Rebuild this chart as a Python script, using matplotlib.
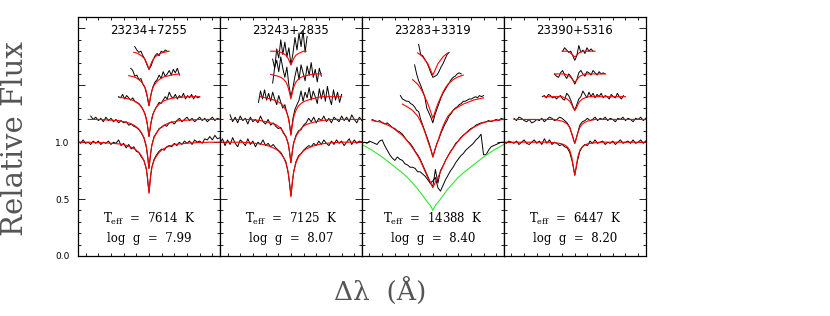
import numpy as np
import matplotlib.pyplot as plt
from matplotlib.ticker import MultipleLocator

# offsets from line centre (Angstrom) at which the half model profiles are given
model_dlam = [0, 6, 12, 20, 30, 40, 50, 60, 80, 100, 120, 160, 200, 240, 280]

star_names = ["23234+7255", "23243+2835", "23283+3319", "23390+5316"]
teff = [7614, 7125, 14388, 6447]
logg = ["7.99", "8.07", "8.40", "8.20"]
line_offsets = [0.0, 0.2, 0.4, 0.6, 0.8]   # H-beta (bottom) ... H8 (top)

# ---------------- 23234+7255 ----------------
p1_start = [-280, -230, -120, -72, -56]
p1_step = [10, 10, 8, 8, 8]
p1_obs1 = [1.01, 0.99, 1.02, 0.99, 1.00, 0.98, 1.01, 0.99, 1.01, 0.98,
           1.00, 0.99, 1.01, 0.98, 1.00, 0.99, 1.02, 0.97, 0.99, 0.95,
           0.98, 0.94, 0.96, 0.92, 0.91, 0.87, 0.84, 0.76, 0.56, 0.77,
           0.85, 0.89, 0.92, 0.94, 0.93, 0.96, 0.97, 0.96, 0.99, 0.97,
           1.00, 0.98, 1.01, 0.99, 1.01, 0.98, 1.02, 1.00, 1.01, 0.99,
           1.03, 1.02, 1.05, 1.02, 1.06, 1.03, 1.04]
p1_obs2 = [1.03, 1.00, 1.02, 0.99, 1.01, 0.98, 1.02, 0.99, 1.01, 0.98,
           1.00, 0.97, 0.99, 0.97, 0.98, 0.95, 0.96, 0.94, 0.93, 0.91,
           0.88, 0.84, 0.75, 0.57, 0.76, 0.85, 0.88, 0.92, 0.93, 0.95,
           0.94, 0.97, 0.98, 0.96, 0.99, 1.01, 0.98, 1.00, 1.02, 0.99,
           1.01, 0.98, 1.00, 1.02, 0.99, 1.01, 0.98, 1.00, 1.02, 0.99,
           1.01, 1.00]
p1_obs3 = [1.00, 0.99, 1.02, 0.98, 1.01, 0.99, 0.97, 0.99, 0.96, 0.95,
           0.94, 0.92, 0.89, 0.85, 0.78, 0.65, 0.77, 0.85, 0.89, 0.92,
           0.95, 0.94, 0.97, 1.00, 0.98, 1.04, 1.00, 0.99, 1.02, 0.98,
           1.01, 0.99, 1.03, 0.98, 1.01, 0.99, 1.02, 0.98, 1.01, 0.99,
           1.00]
p1_obs4 = [1.05, 1.03, 0.98, 0.99, 0.95, 0.96, 0.91, 0.88, 0.81, 0.72,
           0.82, 0.89, 0.93, 0.95, 0.99, 0.96, 1.02, 0.98, 1.00, 1.03,
           0.99, 1.04, 1.01, 1.05, 0.99]
p1_obs5 = [1.04, 1.01, 0.99, 1.00, 0.96, 0.93, 0.88, 0.84, 0.87, 0.92,
           0.96, 0.98, 0.96, 1.00, 0.99, 1.01, 1.00]
p1_mod1 = [0.55, 0.70, 0.78, 0.84, 0.88, 0.91, 0.93, 0.945, 0.965, 0.98, 0.985, 0.993, 0.997, 1.0, 1.0]
p1_mod2 = [0.57, 0.70, 0.78, 0.84, 0.885, 0.915, 0.935, 0.95, 0.97, 0.98, 0.99, 0.995, 1.0, 1.0, 1.0]
p1_mod3 = [0.65, 0.75, 0.82, 0.87, 0.91, 0.935, 0.95, 0.965, 0.98, 0.99, 0.995, 1.0, 1.0, 1.0, 1.0]
p1_mod4 = [0.72, 0.80, 0.86, 0.90, 0.93, 0.95, 0.965, 0.975, 0.985, 0.995, 1.0, 1.0, 1.0, 1.0, 1.0]
p1_mod5 = [0.84, 0.88, 0.91, 0.94, 0.96, 0.975, 0.985, 0.99, 1.0, 1.0, 1.0, 1.0, 1.0, 1.0, 1.0]

# ---------------- 23243+2835 ----------------
p2_start = [-280, -240, -128, -72, -72]
p2_step = [10, 10, 8, 8, 8]
p2_obs1 = [0.99, 1.03, 0.97, 1.02, 0.98, 1.04, 0.99, 0.96, 1.02, 1.00,
           0.97, 1.03, 0.98, 1.01, 0.96, 1.00, 0.98, 1.02, 0.97, 0.99,
           0.96, 0.98, 0.95, 0.93, 0.91, 0.87, 0.83, 0.72, 0.53, 0.73,
           0.83, 0.88, 0.90, 0.93, 0.95, 0.97, 0.96, 0.99, 0.97, 1.01,
           0.98, 1.02, 0.99, 0.97, 1.01, 0.98, 1.02, 0.99, 1.01, 0.97,
           1.00, 1.03, 0.98, 1.02, 0.99, 1.01, 1.00]
p2_obs2 = [1.04, 0.98, 1.02, 0.97, 1.03, 0.99, 1.01, 0.96, 1.02, 0.98,
           1.00, 0.97, 1.03, 0.98, 0.96, 1.00, 0.95, 0.97, 0.94, 0.92,
           0.93, 0.88, 0.85, 0.78, 0.62, 0.79, 0.86, 0.90, 0.91, 0.95,
           0.97, 1.01, 0.98, 1.02, 0.97, 1.01, 0.99, 1.03, 0.98, 1.01,
           0.97, 1.02, 1.00, 0.98, 1.03, 0.99, 1.02, 0.98, 1.04, 1.00,
           0.97, 1.02, 0.99]
p2_obs3 = [0.95, 1.05, 0.98, 1.06, 0.97, 1.03, 0.96, 1.04, 0.98, 0.93,
           1.01, 0.95, 0.90, 0.93, 0.86, 0.80, 0.67, 0.81, 0.89, 0.93,
           0.97, 1.05, 0.96, 1.04, 0.99, 1.08, 0.97, 1.05, 1.00, 0.94,
           1.07, 0.98, 1.06, 0.96, 1.09, 0.99, 0.93, 1.06, 0.97, 1.04,
           0.95, 1.02]
p2_obs4 = [0.92, 1.06, 1.12, 1.02, 1.15, 1.05, 0.97, 1.06, 0.90, 0.80,
           0.88, 0.98, 1.06, 0.95, 1.08, 1.01, 0.94, 1.07, 0.99, 1.10,
           0.97, 1.04, 0.93, 1.05, 0.98]
p2_obs5 = [0.93, 0.85, 1.02, 0.94, 1.10, 0.97, 1.08, 0.95, 1.03, 0.88,
           0.98, 1.12, 1.01, 1.16, 1.04, 1.18, 0.99, 1.13]
p2_mod1 = [0.52, 0.66, 0.75, 0.82, 0.87, 0.90, 0.925, 0.94, 0.96, 0.975, 0.985, 0.995, 1.0, 1.0, 1.0]
p2_mod2 = [0.62, 0.73, 0.80, 0.85, 0.89, 0.92, 0.94, 0.955, 0.97, 0.98, 0.99, 1.0, 1.0, 1.0, 1.0]
p2_mod3 = [0.66, 0.76, 0.83, 0.88, 0.92, 0.94, 0.955, 0.965, 0.98, 0.99, 1.0, 1.0, 1.0, 1.0, 1.0]
p2_mod4 = [0.78, 0.84, 0.89, 0.93, 0.955, 0.97, 0.98, 0.985, 0.995, 1.0, 1.0, 1.0, 1.0, 1.0, 1.0]
p2_mod5 = [0.88, 0.91, 0.94, 0.965, 0.98, 0.99, 1.0, 1.0, 1.0, 1.0, 1.0, 1.0, 1.0, 1.0, 1.0]

# ---------------- 23283+3319 ----------------
p3_start = [-280, -240, -128, -72, -56]
p3_step = [10, 10, 8, 8, 8]
p3_obs1 = [0.99, 1.00, 0.99, 1.01, 1.00, 0.99, 0.98, 1.01, 1.02, 0.97,
           0.93, 0.89, 0.86, 0.84, 0.87, 0.85, 0.84, 0.81, 0.80, 0.78,
           0.78, 0.77, 0.74, 0.74, 0.72, 0.70, 0.67, 0.64, 0.66, 0.69,
           0.60, 0.57, 0.62, 0.67, 0.71, 0.75, 0.78, 0.82, 0.85, 0.88,
           0.90, 0.93, 0.95, 0.97, 0.99, 1.02, 1.04, 1.07, 0.89, 0.89,
           0.93, 0.96, 0.97, 0.98, 0.99, 1.00, 1.00]
p3_obs2 = [1.00, 0.99, 0.98, 0.99, 0.97, 0.96, 0.97, 0.95, 0.93, 0.92,
           0.90, 0.89, 0.87, 0.84, 0.81, 0.79, 0.76, 0.72, 0.69, 0.65,
           0.60, 0.55, 0.50, 0.44, 0.41, 0.56, 0.44, 0.55, 0.59, 0.64,
           0.68, 0.72, 0.75, 0.79, 0.81, 0.84, 0.86, 0.88, 0.90, 0.92,
           0.93, 0.95, 0.96, 0.97, 0.97, 0.98, 0.99, 0.98, 0.99, 1.00,
           0.99, 1.01, 1.00]
p3_obs3 = [1.01, 0.98, 0.97, 0.96, 0.96, 0.94, 0.93, 0.91, 0.88, 0.87,
           0.80, 0.75, 0.70, 0.65, 0.60, 0.54, 0.47, 0.53, 0.59, 0.63,
           0.68, 0.72, 0.76, 0.79, 0.83, 0.85, 0.88, 0.90, 0.91, 0.93,
           0.94, 0.96, 0.96, 0.97, 0.98, 0.98, 0.99, 1.00, 0.99, 1.01,
           1.00, 1.01]
p3_obs4 = [1.08, 1.00, 0.94, 0.90, 0.85, 0.80, 0.70, 0.66, 0.62, 0.57,
           0.64, 0.69, 0.74, 0.79, 0.83, 0.86, 0.89, 0.92, 0.95, 0.97,
           0.98, 1.00, 1.01, 1.00]
p3_obs5 = [1.06, 0.97, 0.96, 0.93, 0.90, 0.86, 0.81, 0.77, 0.78, 0.79,
           0.82, 0.86, 0.89, 0.93, 0.97, 0.99]
p3_mod1 = [0.40, 0.43, 0.45, 0.47, 0.50, 0.53, 0.56, 0.59, 0.64, 0.69, 0.73, 0.80, 0.87, 0.93, 0.98]
p3_mod2 = [0.40, 0.43, 0.46, 0.49, 0.54, 0.59, 0.64, 0.68, 0.75, 0.81, 0.86, 0.93, 0.975, 0.99, 1.0]
p3_mod3 = [0.47, 0.52, 0.56, 0.61, 0.68, 0.74, 0.79, 0.83, 0.88, 0.91, 0.935, 0.97, 0.99, 1.0, 1.0]
p3_mod4 = [0.61, 0.65, 0.69, 0.74, 0.79, 0.84, 0.88, 0.91, 0.95, 0.975, 0.99, 1.0, 1.0, 1.0, 1.0]
p3_mod5 = [0.79, 0.82, 0.85, 0.89, 0.92, 0.95, 0.97, 0.985, 1.0, 1.0, 1.0, 1.0, 1.0, 1.0, 1.0]

# ---------------- 23390+5316 ----------------
p4_start = [-280, -240, -128, -80, -48]
p4_step = [10, 10, 8, 8, 8]
p4_obs1 = [1.00, 0.99, 1.01, 1.00, 0.99, 1.01, 0.98, 1.00, 1.02, 0.99,
           0.98, 1.00, 1.02, 0.99, 1.01, 0.98, 1.03, 0.99, 1.02, 0.98,
           1.00, 0.99, 0.97, 0.98, 0.96, 0.95, 0.91, 0.83, 0.71, 0.83,
           0.92, 0.96, 0.98, 0.97, 1.01, 0.99, 1.02, 0.99, 1.00, 1.01,
           0.98, 1.00, 0.99, 1.01, 0.98, 1.00, 1.02, 0.99, 1.00, 1.01,
           0.99, 1.02, 0.99, 1.00, 1.02, 0.99, 1.01]
p4_obs2 = [1.01, 0.99, 1.02, 1.01, 0.99, 0.98, 1.00, 0.97, 0.98, 1.00,
           0.99, 1.01, 0.98, 1.00, 1.02, 1.01, 0.99, 1.00, 1.02, 1.01,
           0.99, 0.97, 0.93, 0.86, 0.79, 0.87, 0.95, 0.98, 0.99, 1.01,
           0.99, 1.00, 1.02, 0.99, 1.01, 1.00, 1.02, 0.99, 1.01, 1.00,
           0.98, 1.01, 1.00, 1.02, 0.99, 1.01, 1.00, 0.98, 1.01, 1.00,
           1.02, 0.99, 1.01]
p4_obs3 = [1.00, 1.01, 0.99, 1.02, 1.01, 0.99, 1.00, 0.98, 1.00, 1.01,
           0.98, 0.97, 1.03, 1.01, 0.97, 0.92, 0.88, 0.93, 0.98, 1.00,
           1.05, 1.02, 0.99, 1.04, 1.00, 1.03, 0.99, 1.02, 1.00, 1.03,
           0.99, 1.01, 1.00, 0.98, 1.02, 1.00, 0.99, 1.03, 1.00, 0.98,
           1.01]
p4_obs4 = [1.00, 0.98, 0.97, 1.01, 1.03, 0.99, 0.96, 1.00, 0.98, 0.95,
           0.91, 0.95, 1.01, 1.03, 1.00, 0.98, 1.02, 1.01, 0.99, 1.03,
           1.01, 0.99, 1.02, 1.00, 1.01, 1.00]
p4_obs5 = [1.00, 1.03, 1.01, 0.99, 1.00, 0.96, 0.92, 0.96, 1.05, 0.99,
           1.01, 0.98, 1.03, 1.00, 1.02, 1.00]
p4_mod1 = [0.71, 0.79, 0.87, 0.93, 0.96, 0.975, 0.985, 0.99, 0.995, 1.0, 1.0, 1.0, 1.0, 1.0, 1.0]
p4_mod2 = [0.79, 0.83, 0.88, 0.93, 0.96, 0.975, 0.985, 0.99, 1.0, 1.0, 1.0, 1.0, 1.0, 1.0, 1.0]
p4_mod3 = [0.88, 0.90, 0.93, 0.96, 0.98, 0.99, 1.0, 1.0, 1.0, 1.0, 1.0, 1.0, 1.0, 1.0, 1.0]
p4_mod4 = [0.93, 0.94, 0.96, 0.98, 0.99, 1.0, 1.0, 1.0, 1.0, 1.0, 1.0, 1.0, 1.0, 1.0, 1.0]
p4_mod5 = [0.95, 0.96, 0.975, 0.99, 1.0, 1.0, 1.0, 1.0, 1.0, 1.0, 1.0, 1.0, 1.0, 1.0, 1.0]

panels = [
    dict(start=p1_start, step=p1_step, obs=[p1_obs1, p1_obs2, p1_obs3, p1_obs4, p1_obs5],
         mod=[p1_mod1, p1_mod2, p1_mod3, p1_mod4, p1_mod5], colors=["red"] * 5),
    dict(start=p2_start, step=p2_step, obs=[p2_obs1, p2_obs2, p2_obs3, p2_obs4, p2_obs5],
         mod=[p2_mod1, p2_mod2, p2_mod3, p2_mod4, p2_mod5], colors=["red"] * 5),
    dict(start=p3_start, step=p3_step, obs=[p3_obs1, p3_obs2, p3_obs3, p3_obs4, p3_obs5],
         mod=[p3_mod1, p3_mod2, p3_mod3, p3_mod4, p3_mod5], colors=["#33e633"] + ["red"] * 4),
    dict(start=p4_start, step=p4_step, obs=[p4_obs1, p4_obs2, p4_obs3, p4_obs4, p4_obs5],
         mod=[p4_mod1, p4_mod2, p4_mod3, p4_mod4, p4_mod5], colors=["red"] * 5),
]

plt.rcParams['mathtext.fontset'] = 'dejavuserif'

fig, axes = plt.subplots(1, 4, figsize=(8.3, 3.16), dpi=100, sharey=True)
fig.subplots_adjust(left=0.094, right=0.778, bottom=0.19, top=0.946, wspace=0)

dl = np.array(model_dlam, dtype=float)
mx = np.concatenate([-dl[::-1], dl[1:]])

for i, (ax, p) in enumerate(zip(axes, panels)):
    for k in range(5):
        flux = np.array(p["obs"][k])
        lam = p["start"][k] + p["step"][k] * np.arange(len(flux))
        ax.plot(lam, flux + line_offsets[k], color="black", lw=0.7)

        # model profile, symmetric about the line centre
        half = np.array(p["mod"][k])
        my = np.concatenate([half[::-1], half[1:]])
        keep = (mx >= lam[0] - 10) & (mx <= lam[-1] + 10)
        ax.plot(mx[keep], my[keep] + line_offsets[k], color=p["colors"][k], lw=0.8)

    ax.set_xlim(-280, 280)
    ax.set_ylim(0, 2.1)
    ax.set_xticks(np.arange(-250, 251, 50))
    ax.set_xticklabels([])
    ax.set_yticks([0, 0.5, 1.0, 1.5, 2.0])
    ax.yaxis.set_minor_locator(MultipleLocator(0.1))
    ax.tick_params(which="both", direction="in", top=True, right=True, width=0.6)
    ax.tick_params(axis="y", which="major", length=5, labelsize=6.5, pad=6)
    ax.tick_params(axis="y", which="minor", length=2.5)
    ax.tick_params(axis="x", length=2.5)
    for s in ax.spines.values():
        s.set_linewidth(0.9)

    ax.text(0.5, 0.945, star_names[i], transform=ax.transAxes, ha="center", va="center",
            fontsize=8.5, family="DejaVu Sans")
    ax.text(0.5, 0.155, r"T$_{\rm eff}$  =  %d  K" % teff[i], transform=ax.transAxes,
            ha="center", va="center", fontsize=8.5, family="DejaVu Serif")
    ax.text(0.5, 0.075, "log  g  =  %s" % logg[i], transform=ax.transAxes,
            ha="center", va="center", fontsize=8.5, family="DejaVu Serif")

axes[0].set_yticklabels(["0.0", "0.5", "1.0", "", ""])

fig.text(0.018, 0.563, "Relative Flux", rotation=90, ha="center", va="center",
         fontsize=21, family="DejaVu Serif", color="#555555")
fig.text(0.458, 0.079, "Δλ  (Å)", ha="center", va="center",
         fontsize=19, family="DejaVu Serif", color="#555555")

fig.savefig("out.png", dpi=100)
